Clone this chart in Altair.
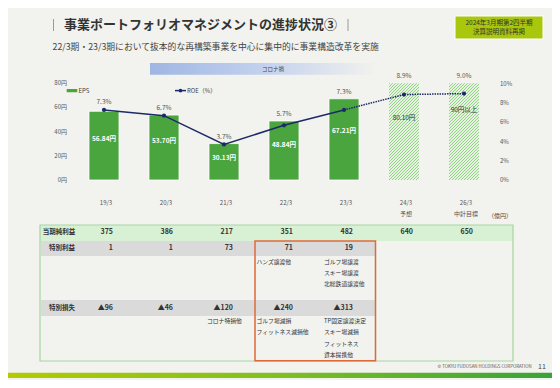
import altair as alt
import pandas as pd

FONT = "Noto Sans CJK JP"
BG = "#f2f2ee"
NAVY = "#1c2a68"
GREEN = "#4ba53f"

# ---------------- data ----------------
periods = ["19/3", "20/3", "21/3", "22/3", "23/3", "24/3", "26/3"]
period_labels = ["19/3", "20/3", "21/3", "22/3", "23/3", "24/3\n予想", "26/3\n中計目標"]
kinds = ["actual", "actual", "actual", "actual", "actual", "forecast", "forecast"]
eps = [56.84, 53.70, 30.13, 48.84, 67.21, 80.10, 90.0]
eps_labels = ["56.84円", "53.70円", "30.13円", "48.84円", "67.21円", "80.10円", "90円以上"]
roe = [7.3, 6.7, 3.7, 5.7, 7.3, 8.9, 9.0]
roe_labels = ["7.3%", "6.7%", "3.7%", "5.7%", "7.3%", "8.9%", "9.0%"]
net_income = ["375", "386", "217", "351", "482", "640", "650"]

table_periods = ["19/3", "20/3", "21/3", "22/3", "23/3"]
special_gain = ["1", "1", "73", "71", "19"]
special_loss = ["▲96", "▲46", "▲120", "▲240", "▲313"]

gain_note_period = ["22/3", "23/3", "23/3", "23/3"]
gain_note_idx = [0, 0, 1, 2]
gain_note_text = ["ハンズ譲渡他", "ゴルフ場譲渡", "スキー場譲渡", "北総鉄道譲渡他"]

loss_note_period = ["21/3", "22/3", "22/3", "23/3", "23/3", "23/3", "23/3"]
loss_note_idx = [0, 0, 1, 0, 1, 2, 3]
loss_note_text = ["コロナ特損他", "ゴルフ場減損", "フィットネス減損他",
                  "TP固定譲渡決定", "スキー場減損", "フィットネス", "資本提携他"]

eps_ticks = [0, 20, 40, 60, 80]
eps_tick_labels = ["0円", "20円", "40円", "60円", "80円"]
roe_ticks = [0, 2, 4, 6, 8, 10]
roe_tick_labels = ["0%", "2%", "4%", "6%", "8%", "10%"]

df = pd.DataFrame({"period": periods, "label": period_labels, "kind": kinds,
                   "eps": eps, "eps_label": eps_labels, "roe": roe,
                   "roe_label": roe_labels, "ni": net_income})
tdf = pd.DataFrame({"period": table_periods, "gain": special_gain, "loss": special_loss})
gdf = pd.DataFrame({"period": gain_note_period, "idx": gain_note_idx, "text": gain_note_text})
ldf = pd.DataFrame({"period": loss_note_period, "idx": loss_note_idx, "text": loss_note_text})
et = pd.DataFrame({"v": eps_ticks, "t": eps_tick_labels})
rt = pd.DataFrame({"v": roe_ticks, "t": roe_tick_labels})

# ---------------- scales ----------------
X = alt.Scale(domain=periods, range=[66, 486], paddingInner=0.5, paddingOuter=0.25)
YE = alt.Scale(domain=[0, 80], range=[172, 75.3], clamp=True, nice=False)
YR = alt.Scale(domain=[0, 10], range=[172, 76], nice=False)


def xe():
    return alt.X("period:N", scale=X, axis=None)


def txt(**kw):
    base = dict(font=FONT, fontSize=6, color="#444", baseline="middle")
    base.update(kw)
    return base


one = pd.DataFrame({"a": [1]})


def deco():
    return alt.Chart(one)


layers = []

# ---------------- header ----------------
layers.append(deco().mark_rule(color="#9a9a9a", strokeWidth=1).encode(
    x=alt.value(45.5), y=alt.value(11), y2=alt.value(23)))
layers.append(deco().mark_rule(color="#9a9a9a", strokeWidth=1).encode(
    x=alt.value(340), y=alt.value(11), y2=alt.value(23)))
layers.append(deco().mark_text(**txt(text="事業ポートフォリオマネジメントの進捗状況③", fontSize=13,
                                      fontWeight="bold", color="#333", align="left")).encode(
    x=alt.value(56), y=alt.value(17)))
layers.append(deco().mark_rect(fill="#a9c70c", stroke="white", strokeWidth=1).encode(
    x=alt.value(447), x2=alt.value(535), y=alt.value(8), y2=alt.value(31)))
layers.append(deco().mark_text(**txt(text="2024年3月期第2四半期", fontSize=6.5, color="#333",
                                      align="center")).encode(x=alt.value(491), y=alt.value(15)))
layers.append(deco().mark_text(**txt(text="決算説明資料再掲", fontSize=6.5, color="#333",
                                      align="center")).encode(x=alt.value(491), y=alt.value(24)))
layers.append(deco().mark_text(**txt(
    text="22/3期・23/3期において抜本的な再構築事業を中心に集中的に事業構造改革を実施",
    fontSize=8.8, color="#444", align="left")).encode(x=alt.value(44.5), y=alt.value(39)))

# コロナ禍 band
corona_grad = alt.LinearGradient(gradient="linear", x1=0, y1=0, x2=1, y2=0, stops=[
    alt.GradientStop(offset=0, color="#9fb6e3"),
    alt.GradientStop(offset=0.5, color="#c3d1ee"),
    alt.GradientStop(offset=1, color=BG)])
layers.append(deco().mark_rect(fill=corona_grad).encode(
    x=alt.value(142), x2=alt.value(368), y=alt.value(55), y2=alt.value(66.7)))
layers.append(deco().mark_text(**txt(text="コロナ禍", fontSize=5.5, align="center")).encode(
    x=alt.value(265), y=alt.value(61)))

# legend
layers.append(deco().mark_rect(fill=GREEN).encode(
    x=alt.value(58.7), x2=alt.value(69.3), y=alt.value(81), y2=alt.value(84.3)))
layers.append(deco().mark_text(**txt(text="EPS", align="left")).encode(
    x=alt.value(70.5), y=alt.value(82.6)))
layers.append(deco().mark_rule(color=NAVY, strokeWidth=1.5).encode(
    x=alt.value(167), x2=alt.value(178), y=alt.value(82.6)))
layers.append(deco().mark_point(filled=True, size=14, color=NAVY, opacity=1).encode(
    x=alt.value(172.5), y=alt.value(82.6)))
layers.append(deco().mark_text(**txt(text="ROE（%）", align="left")).encode(
    x=alt.value(179), y=alt.value(82.6)))

# ---------------- chart ----------------
layers.append(alt.Chart(df).transform_filter("datum.kind == 'actual'").mark_bar(
    color=GREEN, stroke="white", strokeWidth=0.8).encode(
    x=xe(), y=alt.Y("eps:Q", scale=YE, axis=None)))

# diagonal hatch as a striped gradient (period 3px horizontally on a 30 x 96.7 bar)
per = 3.0 / 126.7
stops = []
k = 0
while k * per < 1:
    a = k * per
    b = min(1.0, (k + 0.45) * per)
    c = min(1.0, (k + 1) * per)
    stops += [alt.GradientStop(offset=a, color="#93d287"),
              alt.GradientStop(offset=b, color="#93d287"),
              alt.GradientStop(offset=b, color="#e6f3e1"),
              alt.GradientStop(offset=c, color="#e6f3e1")]
    k += 1
hatch = alt.LinearGradient(gradient="linear", x1=0, y1=0, x2=0.3708, y2=1.195, stops=stops)
layers.append(alt.Chart(df).transform_filter("datum.kind == 'forecast'").mark_bar(
    fill=hatch).encode(x=xe(), y=alt.Y("eps:Q", scale=YE, axis=None)))

layers.append(alt.Chart(df).transform_filter("datum.kind == 'actual'").transform_calculate(
    ly="0.6 * datum.eps").mark_text(**txt(fontSize=6.5, fontWeight="bold", color="white")).encode(
    x=xe(), y=alt.Y("ly:Q", scale=YE, axis=None), text="eps_label:N"))
layers.append(alt.Chart(df).transform_filter("datum.kind == 'forecast'").transform_calculate(
    ly="0.64 * datum.eps").mark_text(**txt(fontSize=6.5, color="#333")).encode(
    x=xe(), y=alt.Y("ly:Q", scale=YE, axis=None), text="eps_label:N"))

layers.append(alt.Chart(df).transform_filter("datum.kind == 'actual'").mark_line(
    color=NAVY, strokeWidth=1.5).encode(x=xe(), y=alt.Y("roe:Q", scale=YR, axis=None)))
layers.append(alt.Chart(df).transform_filter(
    "indexof(['23/3','24/3','26/3'], datum.period) >= 0").mark_line(
    color=NAVY, strokeWidth=1.5, strokeDash=[1.5, 1]).encode(
    x=xe(), y=alt.Y("roe:Q", scale=YR, axis=None)))
layers.append(alt.Chart(df).mark_point(filled=True, size=18, color=NAVY, opacity=1).encode(
    x=xe(), y=alt.Y("roe:Q", scale=YR, axis=None)))
layers.append(alt.Chart(df).transform_calculate(
    ly="max(min(datum.eps, 80), datum.roe * 8)").mark_text(**txt(fontSize=6.5, color="#555", dy=-7)).encode(
    x=xe(), y=alt.Y("ly:Q", scale=YE, axis=None), text="roe_label:N"))

# axes as text
layers.append(alt.Chart(et).mark_text(**txt(align="right", color="#555")).encode(
    x=alt.value(59), y=alt.Y("v:Q", scale=YE, axis=None), text="t:N"))
layers.append(alt.Chart(rt).mark_text(**txt(align="left", color="#555")).encode(
    x=alt.value(492), y=alt.Y("v:Q", scale=YR, axis=None), text="t:N"))
layers.append(alt.Chart(df).mark_text(**txt(color="#555", dx=2, lineBreak="\n", lineHeight=11.3)).encode(
    x=xe(), y=alt.value(195), text="label:N"))
layers.append(deco().mark_text(**txt(text="（億円）", align="left", color="#444")).encode(
    x=alt.value(480), y=alt.value(207.7)))

# ---------------- table ----------------
layers.append(deco().mark_rect(fill="#d8f0d4").encode(
    x=alt.value(32), x2=alt.value(505), y=alt.value(217), y2=alt.value(233)))
layers.append(deco().mark_rect(fill="#dadada").encode(
    x=alt.value(33), x2=alt.value(367), y=alt.value(233), y2=alt.value(248)))
layers.append(deco().mark_rect(fill="#dadada").encode(
    x=alt.value(33), x2=alt.value(367), y=alt.value(292), y2=alt.value(308)))
layers.append(deco().mark_rect(fillOpacity=0, stroke="#a6d6a0", strokeWidth=1.2).encode(
    x=alt.value(32), x2=alt.value(505), y=alt.value(217), y2=alt.value(353)))
layers.append(deco().mark_rect(fillOpacity=0, stroke="#e0693a", strokeWidth=1.5).encode(
    x=alt.value(247), x2=alt.value(367.5), y=alt.value(233), y2=alt.value(352.7)))

layers.append(deco().mark_text(**txt(text="当期純利益", fontSize=6.5, fontWeight="bold",
                                      color="#333", align="left")).encode(x=alt.value(34.7), y=alt.value(224.4)))
layers.append(deco().mark_text(**txt(text="特別利益", fontSize=6.5, fontWeight="bold",
                                      color="#333", align="left")).encode(x=alt.value(41), y=alt.value(240)))
layers.append(deco().mark_text(**txt(text="特別損失", fontSize=6.5, fontWeight="bold",
                                      color="#333", align="left")).encode(x=alt.value(41), y=alt.value(300.3)))

layers.append(alt.Chart(df).mark_text(**txt(fontSize=7, fontWeight="bold", color="#333",
                                             align="right", dx=9)).encode(
    x=xe(), y=alt.value(224.4), text="ni:N"))
layers.append(alt.Chart(tdf).mark_text(**txt(fontSize=7, fontWeight="bold", color="#333",
                                              align="right", dx=9)).encode(
    x=xe(), y=alt.value(240), text="gain:N"))
layers.append(alt.Chart(tdf).mark_text(**txt(fontSize=7, fontWeight="bold", color="#333",
                                              align="right", dx=9)).encode(
    x=xe(), y=alt.value(300.3), text="loss:N"))

note_dx = {"21/3": -17, "22/3": -27.5, "23/3": -20}
GY = alt.Scale(domain=[0, 3], range=[253.7, 287.6])
LY = alt.Scale(domain=[0, 3], range=[313, 346.9])
for p, d in note_dx.items():
    if p in gain_note_period:
        layers.append(alt.Chart(gdf).transform_filter(f"datum.period == '{p}'").mark_text(
            **txt(fontSize=5.8, color="#333", align="left", dx=d)).encode(
            x=xe(), y=alt.Y("idx:Q", scale=GY, axis=None), text="text:N"))
    if p in loss_note_period:
        layers.append(alt.Chart(ldf).transform_filter(f"datum.period == '{p}'").mark_text(
            **txt(fontSize=5.8, color="#333", align="left", dx=d)).encode(
            x=xe(), y=alt.Y("idx:Q", scale=LY, axis=None), text="text:N"))

# ---------------- footer ----------------
layers.append(deco().mark_text(**txt(text="© TOKYU FUDOSAN HOLDINGS CORPORATION", fontSize=4.4,
                                      color="#555", align="right")).encode(x=alt.value(523.7), y=alt.value(359.3)))
layers.append(deco().mark_text(**txt(text="11", fontSize=7, color="#444", align="center")).encode(
    x=alt.value(534), y=alt.value(359.3)))
bottom_grad = alt.LinearGradient(gradient="linear", x1=0, y1=0, x2=1, y2=0, stops=[
    alt.GradientStop(offset=0, color="#b2cb00"),
    alt.GradientStop(offset=0.5, color="#80bf22"),
    alt.GradientStop(offset=1, color="#38a339")])
layers.append(deco().mark_rect(fill=bottom_grad).encode(
    x=alt.value(0), x2=alt.value(544), y=alt.value(364.7), y2=alt.value(370)))

chart = alt.layer(*layers).resolve_scale(x="independent", y="independent").properties(
    width=544, height=372, background=BG, padding=0,
    autosize=alt.AutoSizeParams(type="none")).configure_view(stroke=None)

chart.save("out.html", embed_options={"renderer": "svg", "actions": False})
